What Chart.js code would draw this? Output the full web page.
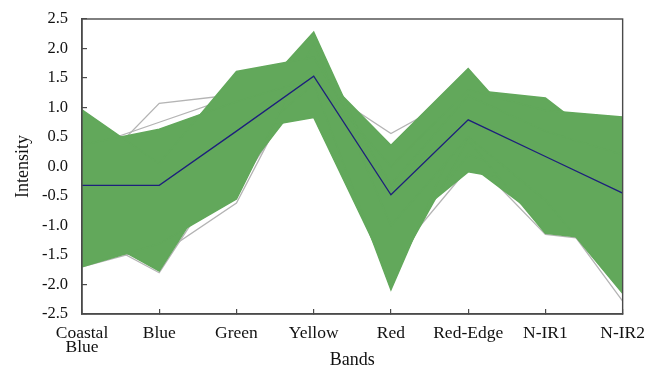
<!DOCTYPE html>
<html>
<head>
<meta charset="utf-8">
<script src="https://cdn.jsdelivr.net/npm/chart.js@4"></script>
<style>
html,body{margin:0;padding:0;background:#ffffff;}
#wrap{width:662px;height:369px;}
</style>
</head>
<body>
<div id="wrap"><canvas id="c" width="662" height="369"></canvas></div>
<script>
// ---- data ----
const bands = [['Coastal', 'Blue'], 'Blue', 'Green', 'Yellow', 'Red', 'Red-Edge', 'N-IR1', 'N-IR2'];
const yMin = -2.5, yMax = 2.5, yStep = 0.5;

// mean spectrum (dark blue line)
const meanSpectrum = [-0.32, -0.32, 0.60, 1.53, -0.48, 0.79, 0.17, -0.45];

// representative sample spectra spanning the green band
const greenSpectra = [
  [ 0.96,  0.05,  1.61, 1.85, -0.30,  1.20,  0.60,  0.20],
  [ 0.37,  0.63,  1.10, 1.50,  0.00,  1.30,  0.95,  0.84],
  [-1.70, -1.31, -0.55, 2.08, -1.00,  0.50, -0.57, -2.15],
  [-1.05, -1.77,  0.28, 1.40, -2.09,  0.93,  0.30, -0.50],
  [-0.30, -0.50,  0.83, 2.28, -0.60,  0.80,  0.00, -1.00],
  [ 0.30,  0.20,  1.00, 1.69,  0.36,  1.66,  0.19, -0.30],
  [-1.30, -0.80,  0.60, 0.83, -1.90,  0.45, -1.13, -1.28],
  [-0.80, -1.00, -0.28, 1.42, -1.50,  0.20, -0.30, -1.60],
  [ 0.00, -0.30,  0.30, 1.10, -1.16, -0.09, -0.32, -1.00],
  [-0.60,  0.00,  0.50, 1.30, -0.80,  0.05, -0.94, -1.50],
  [ 0.50,  0.40,  1.30, 1.60,  0.20,  1.30,  1.16,  0.15]
];

// outlier spectra (grey lines)
const graySpectra = [
  [-0.27,  1.07,  1.22, 1.60,  0.00,  1.20,  0.80,  0.50],
  [ 0.30,  0.75,  1.20, 1.70,  0.20,  1.00,  0.50,  0.30],
  [ 0.20,  0.30,  1.10, 1.42,  0.56,  1.28,  0.90,  0.60],
  [-1.40, -1.50, -0.62, 1.90, -1.20,  0.20, -1.15, -1.30],
  [-1.10, -1.80,  0.20, 1.20, -1.00,  0.30, -0.50, -2.28],
  [-1.70, -1.35, -0.40, 1.60, -1.60, -0.03, -0.30, -1.00]
];

// ---- styles ----
const GREEN = '#62a85b';
const GREY = '#b4b4b4';
const NAVY = '#1d1f7c';
const AXIS = '#4a4a4a';
const SERIF = "'Liberation Serif', 'Times New Roman', serif";

const datasets = [];
datasets.push({
  label: 'Mean', data: meanSpectrum, borderColor: NAVY, borderWidth: 1.3,
  pointRadius: 0, fill: false, order: 0, tension: 0
});
greenSpectra.forEach((s, i) => {
  datasets.push({
    label: 'Sample ' + (i + 1), data: s, borderColor: GREEN, backgroundColor: GREEN,
    borderWidth: 1.5, pointRadius: 0, fill: i === 0 ? false : '-1', order: 1, tension: 0
  });
});
graySpectra.forEach((s, i) => {
  datasets.push({
    label: 'Outlier ' + (i + 1), data: s, borderColor: GREY, borderWidth: 1.3,
    pointRadius: 0, fill: false, order: 2, tension: 0
  });
});

const framePlugin = {
  id: 'frame',
  afterDraw(chart) {
    const a = chart.chartArea, ctx = chart.ctx;
    ctx.save();
    ctx.strokeStyle = AXIS;
    ctx.lineWidth = 1.4;
    ctx.strokeRect(a.left, a.top, a.right - a.left, a.bottom - a.top);
    ctx.restore();
  }
};

new Chart(document.getElementById('c'), {
  type: 'line',
  data: { labels: bands, datasets: datasets },
  options: {
    responsive: false,
    animation: false,
    devicePixelRatio: 1,
    layout: { padding: { top: 19, right: 39, bottom: 0, left: 0 } },
    plugins: { legend: { display: false }, tooltip: { enabled: false } },
    elements: { line: { borderCapStyle: 'butt', borderJoinStyle: 'miter' } },
    scales: {
      x: {
        type: 'category',
        offset: false,
        grid: { display: true, drawOnChartArea: false, drawTicks: true, tickLength: -5, color: AXIS, lineWidth: 1.2, offset: false },
        border: { display: true, color: AXIS, width: 1.4 },
        ticks: { color: '#111', font: { family: SERIF, size: 17.5, lineHeight: 0.82 }, padding: 17, maxRotation: 0, autoSkip: false },
        title: { display: true, text: 'Bands', color: '#111', font: { family: SERIF, size: 18, lineHeight: 1.0 }, padding: { top: 0, bottom: 0 } },
        afterFit(scale) { scale.height = 55; }
      },
      y: {
        min: yMin, max: yMax,
        grid: { display: true, drawOnChartArea: false, drawTicks: true, tickLength: -5, color: AXIS, lineWidth: 1.2 },
        border: { display: true, color: AXIS, width: 1.4 },
        ticks: { stepSize: yStep, color: '#111', font: { family: SERIF, size: 16.5 }, padding: 19,
                 callback: v => Number(v).toFixed(1) },
        title: { display: true, text: 'Intensity', color: '#111', font: { family: SERIF, size: 18, lineHeight: 1.2 }, padding: { top: 12, bottom: 0 } },
        afterFit(scale) { scale.width = 82; scale.paddingTop = 0; scale.paddingBottom = 0; }
      }
    }
  },
  plugins: [framePlugin]
});
</script>
</body>
</html>
